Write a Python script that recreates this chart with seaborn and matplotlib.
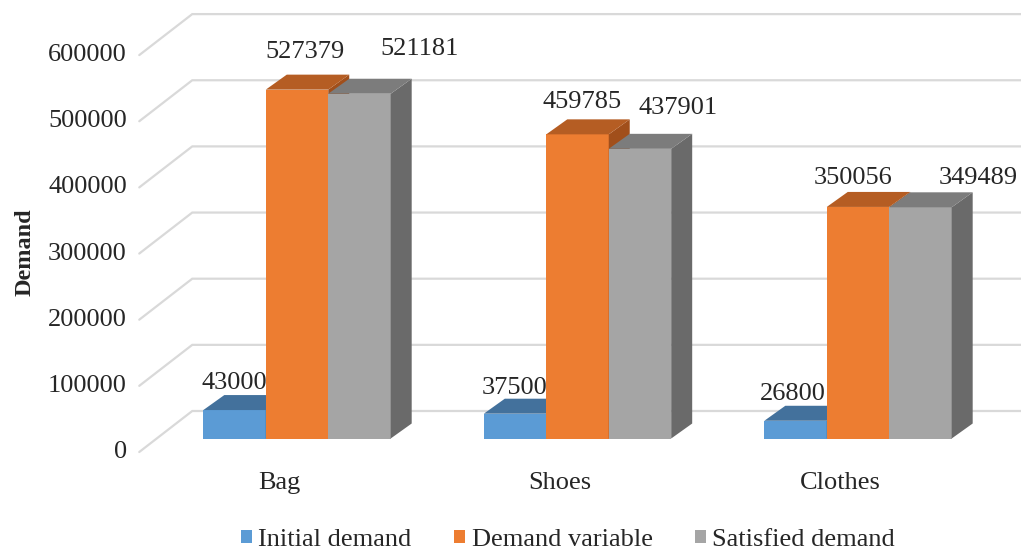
import numpy as np
import pandas as pd
import matplotlib
matplotlib.use("Agg")
import matplotlib.pyplot as plt
import matplotlib.transforms as mtransforms
from matplotlib.patches import Polygon, Patch
from matplotlib.lines import Line2D
from matplotlib.colors import to_rgb
import seaborn as sns

# ---- data -------------------------------------------------------------
categories = ["Bag", "Shoes", "Clothes"]
series_names = ["Initial demand", "Demand variable", "Satisfied demand"]
initial_demand = [43000, 37500, 26800]
demand_variable = [527379, 459785, 350056]
satisfied_demand = [521181, 437901, 349489]
y_ticks = [0, 100000, 200000, 300000, 400000, 500000, 600000]

# ---- style ------------------------------------------------------------
front_colors = ["#5B9BD5", "#ED7D31", "#A5A5A5"]
top_colors = ["#43719C", "#B55D23", "#7C7C7C"]
side_colors = ["#3A6589", "#A14F1B", "#6A6A6A"]
grid_color = "#D9D9D9"

# pseudo-3D depth vectors, in display pixels
BAR_DEPTH = np.array([21.0, 15.0])
WALL_FRONT = np.array([-17.5, -13.5])
WALL_BACK = np.array([35.5, 27.5])

# value-label offsets (dx, dy) in pixels, per series and category
label_offsets = [
    [(0, 27), (0, 25.5), (-2.5, 27)],
    [(8, 38), (5, 32), (-5, 29)],
    [(60, 45), (38, 41), (58, 29)],
]

sns.set_style("white")
plt.rcParams["font.family"] = ["Liberation Serif", "DejaVu Serif"]
FS = 19

df = pd.DataFrame({
    "category": categories * 3,
    "series": np.repeat(series_names, len(categories)),
    "demand": initial_demand + demand_variable + satisfied_demand,
})

fig = plt.figure(figsize=(10.21, 5.51), dpi=100)
ax = fig.add_axes([0.15353, 0.20417, 0.82419, 0.72033])

sns.barplot(
    data=df, x="category", y="demand", hue="series",
    order=categories, hue_order=series_names,
    palette=front_colors, saturation=1, width=0.668, gap=0,
    errorbar=None, legend=False, linewidth=0, ax=ax,
)
ax.set_xlim(-0.5, 2.5)
ax.set_ylim(0, 600000)
ax.axis("off")

ident = mtransforms.IdentityTransform()


def disp(x, y):
    return ax.transData.transform((x, y))


# floor / wall gridlines with their value labels
for v in y_ticks:
    p = disp(-0.5, v)
    front = p + WALL_FRONT
    back = p + WALL_BACK
    right = disp(2.5, v) + WALL_BACK + np.array([40.0, 0.0])
    ax.add_line(Line2D([front[0], back[0], right[0]], [front[1], back[1], right[1]],
                       transform=ident, color=grid_color, lw=1.6, zorder=0.5,
                       clip_on=False, solid_joinstyle="miter"))
    ax.annotate(f"{v}", xy=(0, v), xycoords=("axes fraction", "data"),
                xytext=(-30, -13.5), textcoords="offset pixels",
                ha="right", va="center", fontsize=FS, annotation_clip=False)

# category labels on the front edge of the floor
for i, cat in enumerate(categories):
    ax.annotate(cat, xy=(i, 0), xytext=(-17.5, -44.5), textcoords="offset pixels",
                ha="center", va="center", fontsize=FS, annotation_clip=False)

# give each bar a top and a side face, painted left to right
bars = [b for cont in ax.containers for b in cont]
bars.sort(key=lambda b: b.get_x())
for k, bar in enumerate(bars):
    fc = np.array(bar.get_facecolor()[:3])
    hi = int(np.argmin([np.sum((fc - np.array(to_rgb(c))) ** 2) for c in front_colors]))
    x0, w, h = bar.get_x(), bar.get_width(), bar.get_height()
    ci = int(round(x0 + w / 2))
    z = 2 + k * 0.1
    bar.set_zorder(z)
    bar.set_linewidth(0)
    fl, fr = disp(x0, h), disp(x0 + w, h)
    br0 = disp(x0 + w, 0)
    top = [fl, fr, fr + BAR_DEPTH, fl + BAR_DEPTH]
    side = [br0, fr, fr + BAR_DEPTH, br0 + BAR_DEPTH]
    ax.add_patch(Polygon(side, closed=True, transform=ident, facecolor=side_colors[hi],
                         edgecolor="none", zorder=z + 0.03, clip_on=False))
    ax.add_patch(Polygon(top, closed=True, transform=ident, facecolor=top_colors[hi],
                         edgecolor="none", zorder=z + 0.05, clip_on=False))
    dx, dy = label_offsets[hi][ci]
    ax.annotate(f"{h:.0f}", xy=(x0 + w / 2, h), xytext=(dx, dy),
                textcoords="offset pixels", ha="center", va="center",
                fontsize=FS, zorder=10, annotation_clip=False)

fig.text(25 / 1021, 1 - 252 / 551, "Demand", rotation=90, fontweight="bold",
         fontsize=17.5, ha="center", va="center")

handles = [Patch(facecolor=c, edgecolor="none", label=s)
           for c, s in zip(front_colors, series_names)]
fig.legend(handles=handles, loc="center", bbox_to_anchor=(568 / 1021, 1 - 540 / 551),
           ncol=3, frameon=False, fontsize=FS, handlelength=0.42, handleheight=0.42,
           handletextpad=0.25, columnspacing=1.6, borderaxespad=0, borderpad=0)

fig.savefig("out.png", dpi=100)
